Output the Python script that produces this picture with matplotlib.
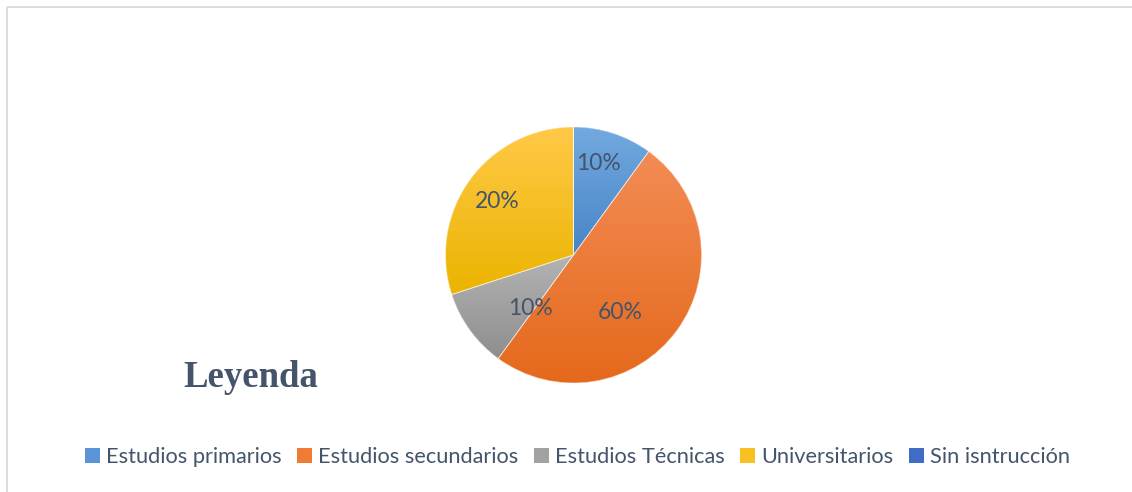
import numpy as np
import matplotlib
matplotlib.use("Agg")
import matplotlib.pyplot as plt
from matplotlib.colors import to_rgb
from matplotlib.patches import Patch, Wedge

# ---- data ----
categories = ["Estudios primarios", "Estudios secundarios", "Estudios Técnicas",
              "Universitarios", "Sin isntrucción"]
values = [10, 50, 10, 30, 0]           # slice sizes as drawn
pct_labels = ["10%", "60%", "10%", "20%", ""]   # label texts as shown
legend_title = "Leyenda"

# ---- styles ----
grad_top = ["#72A9DF", "#F28C55", "#B3B3B3", "#FFC947", "#5B84D2"]
grad_bot = ["#4885C7", "#E5691B", "#8E8E8E", "#EBB400", "#3162B6"]
legend_cols = ["#5B95D5", "#EF7B35", "#A2A2A2", "#F8C020", "#3F6CC4"]
text_col = "#44546A"
# label placement: (fraction of radius, angle clockwise from top in degrees)
label_place = [(0.74, 15), (0.58, 141), (0.54, 219), (0.73, 305), (0.5, 0)]

W, H = 1132, 492
fig = plt.figure(figsize=(W / 100, H / 100), dpi=100)
ax = fig.add_axes([0, 0, 1, 1])
ax.set_xlim(0, W)
ax.set_ylim(0, H)
ax.axis("off")

cx, cy, R = 573.5, H - 255, 128

wedges, _ = ax.pie(values, startangle=90, counterclock=False, center=(cx, cy),
                   radius=R, colors=grad_bot,
                   wedgeprops=dict(edgecolor="none", linewidth=0))

grad = np.linspace(0, 1, 256)[:, None]
for w, ct, cb in zip(wedges, grad_top, grad_bot):
    ext = w.get_path().get_extents()
    if ext.width <= 0 or ext.height <= 0:
        continue
    t, b = np.array(to_rgb(ct)), np.array(to_rgb(cb))
    img = (t[None, None, :] * (1 - grad[:, :, None]) + b[None, None, :] * grad[:, :, None])
    img = np.repeat(img, 2, axis=1)
    im = ax.imshow(img, extent=(ext.x0, ext.x1, ext.y0, ext.y1), origin="upper",
                   aspect="auto", interpolation="bilinear", zorder=2)
    im.set_clip_path(w)

# thin light separators
for w in wedges:
    ax.add_patch(Wedge((cx, cy), R, w.theta1, w.theta2,
                       facecolor="none", edgecolor=(1, 1, 1, 0.6), linewidth=0.6, zorder=3))

for lab, (fr, ang) in zip(pct_labels, label_place):
    if not lab:
        continue
    a = np.deg2rad(90 - ang)
    ax.text(cx + fr * R * np.cos(a), cy + fr * R * np.sin(a), lab,
            ha="center", va="center", fontsize=16.5, color=text_col,
            family=["Lato", "DejaVu Sans"], zorder=4)

ax.set_xlim(0, W)
ax.set_ylim(0, H)

ax.text(183, H - 387, legend_title, fontsize=26.5, fontweight="bold",
        family=["Liberation Serif", "DejaVu Serif"], color=text_col,
        ha="left", va="baseline")

handles = [Patch(facecolor=c, edgecolor="none") for c in legend_cols]
leg = fig.legend(handles, categories, loc="center", bbox_to_anchor=(577.5 / W, 1 - 457 / H),
                 ncol=5, frameon=False, handlelength=0.68, handleheight=0.68,
                 handletextpad=0.28, columnspacing=0.72, borderpad=0, borderaxespad=0,
                 prop=dict(family=["Lato", "DejaVu Sans"], size=15.7))
for t in leg.get_texts():
    t.set_color(text_col)

# chart area border (top and left visible)
ax.plot([6.5, W], [H - 7, H - 7], color="#D9DCE2", lw=1.4, solid_capstyle="butt")
ax.plot([6.5, 6.5], [0, H - 7], color="#D9DCE2", lw=1.4, solid_capstyle="butt")

fig.savefig("out.png", dpi=100)
